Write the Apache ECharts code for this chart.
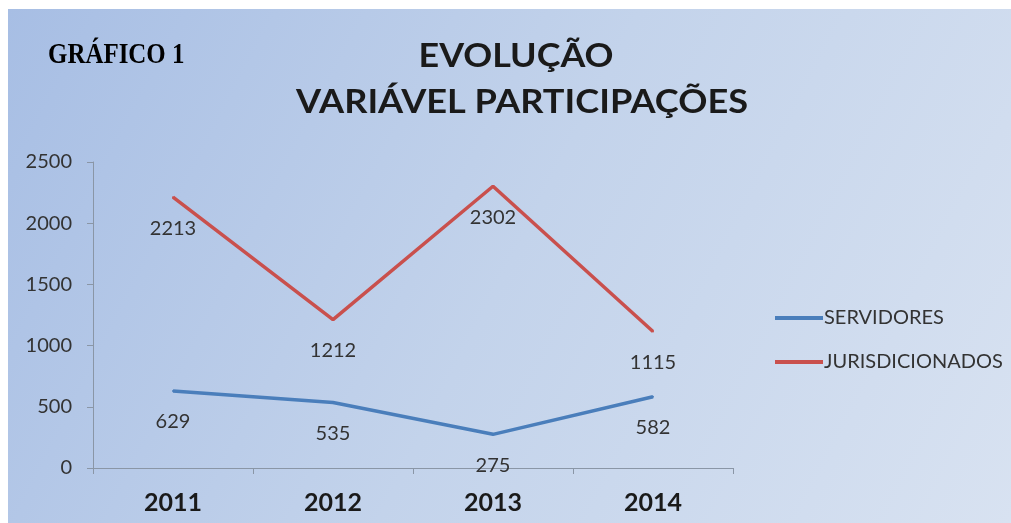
<!DOCTYPE html>
<html>
<head>
<meta charset="utf-8">
<script src="https://cdn.jsdelivr.net/npm/echarts@6/dist/echarts.min.js"></script>
<style>
html,body{margin:0;padding:0;background:#fff;}
#chart{width:1011px;height:523px;}
</style>
</head>
<body>
<div id="chart"></div>
<script>
const categories = ['2011', '2012', '2013', '2014'];
const servidores = [629, 535, 275, 582];
const jurisdicionados = [2213, 1212, 2302, 1115];
const seriesNames = ['SERVIDORES', 'JURISDICIONADOS'];
const titleLines = ['EVOLUÇÃO', 'VARIÁVEL PARTICIPAÇÕES'];
const sideLabel = 'GRÁFICO 1';

const chart = echarts.init(document.getElementById('chart'));
const sans = 'Lato, "Open Sans", sans-serif';
const labelStyle = {
  show: true, position: 'bottom', distance: 20,
  color: '#333', fontSize: 20, fontFamily: sans
};
chart.setOption({
  animation: false,
  backgroundColor: 'transparent',
  graphic: [
    {
      type: 'rect', z: -10, silent: true,
      shape: { x: 8, y: 9, width: 1003, height: 514 },
      style: {
        fill: new echarts.graphic.LinearGradient(0, 0, 1, 1, [
          { offset: 0, color: '#a7bee4' },
          { offset: 0.5, color: '#c3d3eb' },
          { offset: 1, color: '#d8e2f1' }
        ])
      }
    },
    {
      type: 'text', z: 10, x: 48, y: 56, scaleX: 0.86,
      style: { text: sideLabel, font: 'bold 29px "Liberation Serif", serif', fill: '#000', align: 'left', verticalAlign: 'middle' }
    },
    {
      type: 'text', z: 10, x: 516, y: 57, scaleX: 1.12,
      style: { text: titleLines[0], font: 'bold 32px ' + sans, fill: '#1a1a1a', align: 'center', verticalAlign: 'middle' }
    },
    {
      type: 'text', z: 10, x: 522, y: 103, scaleX: 1.13,
      style: { text: titleLines[1], font: 'bold 32px ' + sans, fill: '#1a1a1a', align: 'center', verticalAlign: 'middle' }
    }
  ],
  grid: { left: 93, right: 278, top: 162, bottom: 55 },
  legend: {
    orient: 'vertical', left: 770, top: 303,
    itemWidth: 48, itemHeight: 4, itemGap: 24, icon: 'rect',
    textStyle: { fontSize: 20, color: '#333', fontFamily: sans, padding: [0, 0, 0, -4] },
    data: seriesNames
  },
  xAxis: {
    type: 'category', data: categories, boundaryGap: true,
    axisLine: { lineStyle: { color: '#8a96a6', width: 1 } },
    axisTick: { show: true, length: 6, lineStyle: { color: '#8a96a6' } },
    axisLabel: { fontSize: 25, fontWeight: 'bold', color: '#1a1a1a', fontFamily: sans, margin: 22 }
  },
  yAxis: {
    type: 'value', min: 0, max: 2500, interval: 500,
    splitLine: { show: false },
    axisLine: { show: true, lineStyle: { color: '#8a96a6', width: 1 } },
    axisTick: { show: true, length: 6, lineStyle: { color: '#8a96a6' } },
    axisLabel: { fontSize: 20, color: '#333', fontFamily: sans, margin: 21, formatter: v => String(v) }
  },
  series: [
    {
      name: seriesNames[0], type: 'line', data: servidores,
      symbol: 'circle', symbolSize: 2, showSymbol: true,
      lineStyle: { color: '#4a7ebb', width: 3.5 },
      itemStyle: { color: '#4a7ebb' }, label: labelStyle
    },
    {
      name: seriesNames[1], type: 'line', data: jurisdicionados,
      symbol: 'circle', symbolSize: 2, showSymbol: true,
      lineStyle: { color: '#c9504d', width: 3.5 },
      itemStyle: { color: '#c9504d' }, label: labelStyle
    }
  ]
});
</script>
</body>
</html>
